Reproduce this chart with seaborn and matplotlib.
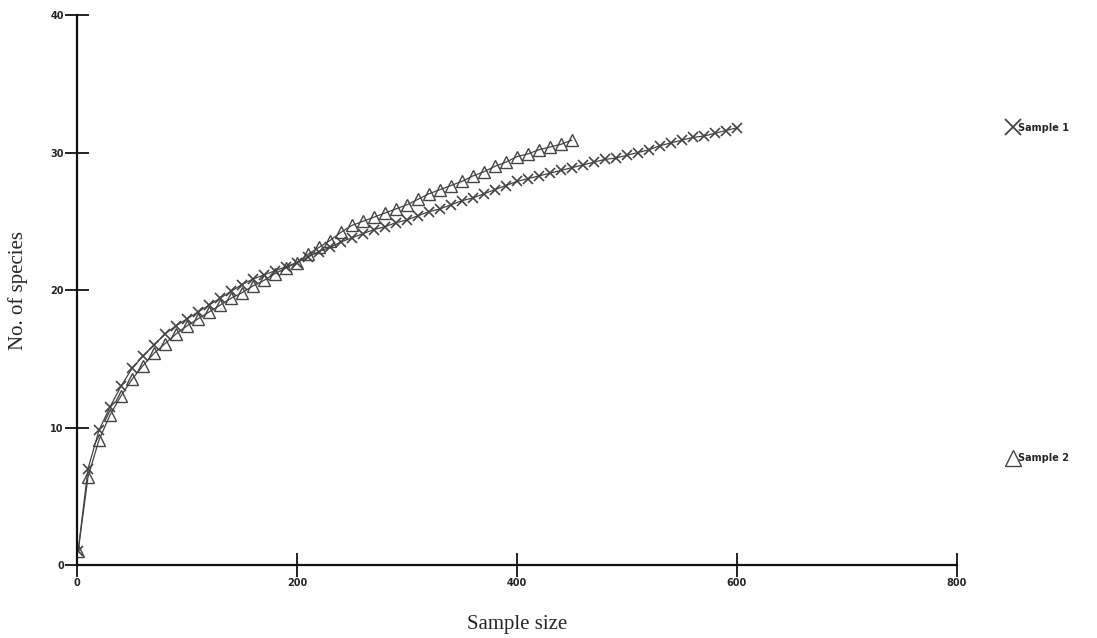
import matplotlib
matplotlib.use("Agg")
import matplotlib.pyplot as plt
from matplotlib.lines import Line2D
import seaborn as sns
import pandas as pd

# Rarefaction curves: number of species vs. sample size
sample1_n = [1] + list(range(10, 601, 10))
sample1_species = [
    1.0, 7.0, 9.8, 11.5, 13.0, 14.3, 15.2, 16.0, 16.8, 17.4, 17.9,
    18.4, 18.9, 19.4, 19.9, 20.4, 20.8, 21.1, 21.4, 21.7, 22.0,
    22.4, 22.8, 23.1, 23.5, 23.8, 24.1, 24.4, 24.6, 24.9, 25.1,
    25.4, 25.7, 25.9, 26.2, 26.5, 26.7, 27.0, 27.3, 27.6, 27.9,
    28.1, 28.3, 28.5, 28.7, 28.9, 29.1, 29.3, 29.5, 29.6, 29.8,
    30.0, 30.2, 30.5, 30.7, 30.9, 31.1, 31.2, 31.4, 31.6, 31.8,
]

sample2_n = [1] + list(range(10, 451, 10))
sample2_species = [
    1.0, 6.4, 9.1, 10.9, 12.3, 13.5, 14.5, 15.4, 16.1, 16.8, 17.4,
    17.9, 18.4, 18.9, 19.4, 19.8, 20.3, 20.7, 21.2, 21.6, 22.0,
    22.6, 23.1, 23.6, 24.2, 24.7, 25.0, 25.3, 25.6, 25.9, 26.2,
    26.6, 27.0, 27.3, 27.6, 27.9, 28.3, 28.6, 29.0, 29.3, 29.7,
    29.9, 30.2, 30.4, 30.6, 30.9,
]

series_labels = ["Sample 1", "Sample 2"]
x_ticks = [0, 200, 400, 600, 800]
y_ticks = [0, 10, 20, 30, 40]

sns.set_style("white")
plt.rcParams["font.family"] = ["DejaVu Sans"]

fig = plt.figure(figsize=(10.97, 6.38), dpi=100)
ax = fig.add_axes([0.0702, 0.1144, 0.802, 0.862])

ink = "#444444"
df1 = pd.DataFrame({"n": sample1_n, "species": sample1_species})
df2 = pd.DataFrame({"n": sample2_n, "species": sample2_species})

sns.lineplot(data=df1, x="n", y="species", ax=ax, color=ink, lw=0.9,
             marker="x", markersize=7, markeredgewidth=1.2,
             markeredgecolor=ink)
sns.lineplot(data=df2, x="n", y="species", ax=ax, color=ink, lw=0.9,
             marker="^", markersize=8.5, markeredgewidth=1.0,
             markerfacecolor="none", markeredgecolor=ink)

ax.set_xlim(0, 800)
ax.set_ylim(0, 40)
ax.set_xticks(x_ticks)
ax.set_yticks(y_ticks)
ax.set_xticklabels([str(v) for v in x_ticks], fontsize=7, fontweight="bold")
ax.set_yticklabels([str(v) for v in y_ticks], fontsize=7, fontweight="bold")
ax.tick_params(bottom=True, left=True, direction="inout", length=17,
               width=1.3, color="#111111", pad=1)

for side in ["top", "right"]:
    ax.spines[side].set_visible(False)
for side in ["left", "bottom"]:
    ax.spines[side].set_color("#111111")
    ax.spines[side].set_linewidth(1.6)

ax.set_xlabel("Sample size", family="Liberation Serif", fontsize=15,
              labelpad=19)
ax.set_ylabel("No. of species", family="Liberation Serif", fontsize=15,
              labelpad=16)

# Separate legend entries placed at the right margin
h1 = Line2D([], [], color=ink, marker="x", linestyle="none",
            markersize=11, markeredgewidth=1.3)
h2 = Line2D([], [], color=ink, marker="^", linestyle="none",
            markersize=12, markerfacecolor="none", markeredgewidth=1.0)
leg1 = ax.legend(handles=[h1], labels=[series_labels[0]], loc="center left",
                 bbox_to_anchor=(0.912, 0.80), bbox_transform=fig.transFigure,
                 frameon=False, handlelength=0.8, handletextpad=0.1,
                 prop={"size": 7, "weight": "bold"})
ax.add_artist(leg1)
ax.legend(handles=[h2], labels=[series_labels[1]], loc="center left",
          bbox_to_anchor=(0.912, 0.282), bbox_transform=fig.transFigure,
          frameon=False, handlelength=0.8, handletextpad=0.1,
          prop={"size": 7, "weight": "bold"})

fig.savefig("out.png", dpi=100, facecolor="white")
